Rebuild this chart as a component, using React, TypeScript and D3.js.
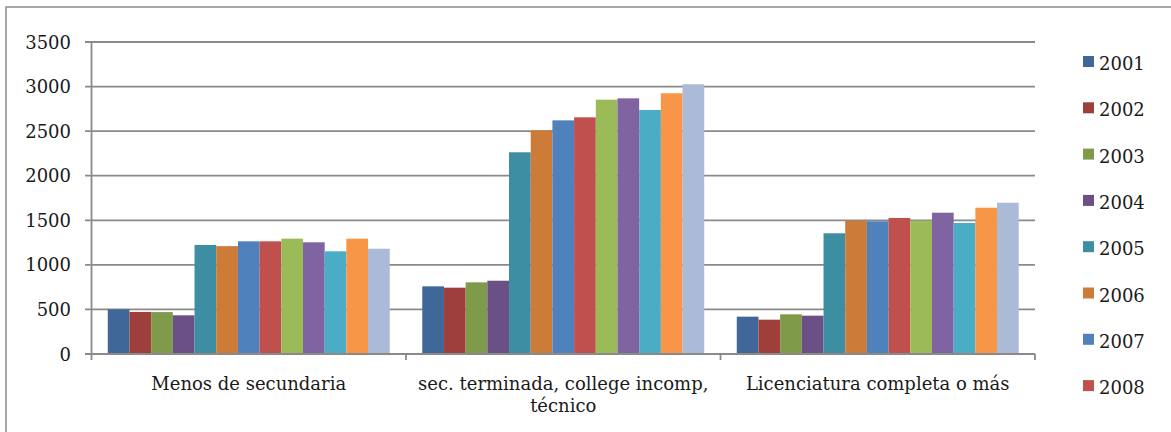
import React from "react";
import * as d3 from "d3";

const categories = [
  "Menos de secundaria",
  "sec. terminada, college incomp, técnico",
  "Licenciatura completa o más",
];
const categoryLines = [
  ["Menos de secundaria"],
  ["sec. terminada, college incomp,", "técnico"],
  ["Licenciatura completa o más"],
];
const years = ["2001", "2002", "2003", "2004", "2005", "2006", "2007", "2008", "2009", "2010", "2011", "2012", "2013"];
const legendYears = ["2001", "2002", "2003", "2004", "2005", "2006", "2007", "2008"];
const colors = ["#3F6797", "#9E3F3C", "#7F9A48", "#6A5084", "#3D8DA3", "#CC7B38", "#4F81BD", "#C0504D", "#9BBB59", "#8064A2", "#4BACC6", "#F79646", "#AABAD7"];
const menosValues = [501, 472, 470, 434, 1223, 1210, 1264, 1264, 1294, 1253, 1152, 1294, 1181];
const secValues = [759, 744, 804, 822, 2263, 2509, 2621, 2655, 2853, 2868, 2737, 2925, 3026];
const licValues = [419, 385, 445, 430, 1354, 1496, 1489, 1526, 1496, 1585, 1470, 1641, 1697];
const yTicks = [0, 500, 1000, 1500, 2000, 2500, 3000, 3500];

const seriesByCategory = [menosValues, secValues, licValues];

export default function App() {
  const W = 1171, H = 432;
  const left = 91.5, right = 1035, top = 42, bottom = 354;
  const y = d3.scaleLinear().domain([0, 3500]).range([bottom, top]);
  const x0 = d3.scaleBand<string>().domain(categories).range([left, right]).paddingInner(0).paddingOuter(0);
  const x1 = d3.scaleBand<string>().domain(years).range([0, x0.bandwidth()]).paddingInner(0).paddingOuter(0.75);
  const font = "'DejaVu Serif', serif";
  const grid = "#8a8a8a";
  const textColor = "#1a1a1a";
  const boundaries = [...categories.map((c) => x0(c)!), right];

  return (
    <svg width={W} height={H} style={{ position: "absolute", left: 0, top: 0, background: "#fff" }} fontFamily={font}>
      <rect x={6} y={7} width={W + 20} height={H + 20} fill="#fff" stroke="#8a8a8a" strokeWidth={1.5} />
      {yTicks.map((t) => (
        <g key={t}>
          <line x1={85} x2={right} y1={y(t)} y2={y(t)} stroke={grid} strokeWidth={1.8} />
          <text x={71} y={y(t) + 6.5} textAnchor="end" fontSize={18} fill={textColor}>{t}</text>
        </g>
      ))}
      {categories.map((c, ci) => (
        <g key={c} transform={`translate(${x0(c)},0)`}>
          {years.map((yr, si) => {
            const v = seriesByCategory[ci][si];
            return (
              <rect key={yr} x={x1(yr)} y={y(v)} width={x1.bandwidth()} height={y(0) - y(v)} fill={colors[si]} />
            );
          })}
        </g>
      ))}
      <line x1={left} x2={left} y1={top} y2={bottom} stroke={grid} strokeWidth={1.8} />
      <line x1={left} x2={right} y1={bottom} y2={bottom} stroke={grid} strokeWidth={1.8} />
      {boundaries.map((b, i) => (
        <line key={i} x1={b} x2={b} y1={bottom} y2={bottom + 6} stroke={grid} strokeWidth={1.8} />
      ))}
      {categories.map((c, ci) => (
        <text key={c} x={x0(c)! + x0.bandwidth() / 2} y={390} textAnchor="middle" fontSize={18} fill={textColor}>
          {categoryLines[ci].map((ln, li) => (
            <tspan key={li} x={x0(c)! + x0.bandwidth() / 2} dy={li === 0 ? 0 : 22}>{ln}</tspan>
          ))}
        </text>
      ))}
      {legendYears.map((yr, i) => (
        <g key={yr} transform={`translate(1083,${70 + i * 46.3})`}>
          <rect x={0} y={-14} width={11} height={11} fill={colors[i]} />
          <text x={16} y={0} fontSize={18} fill={textColor}>{yr}</text>
        </g>
      ))}
    </svg>
  );
}
